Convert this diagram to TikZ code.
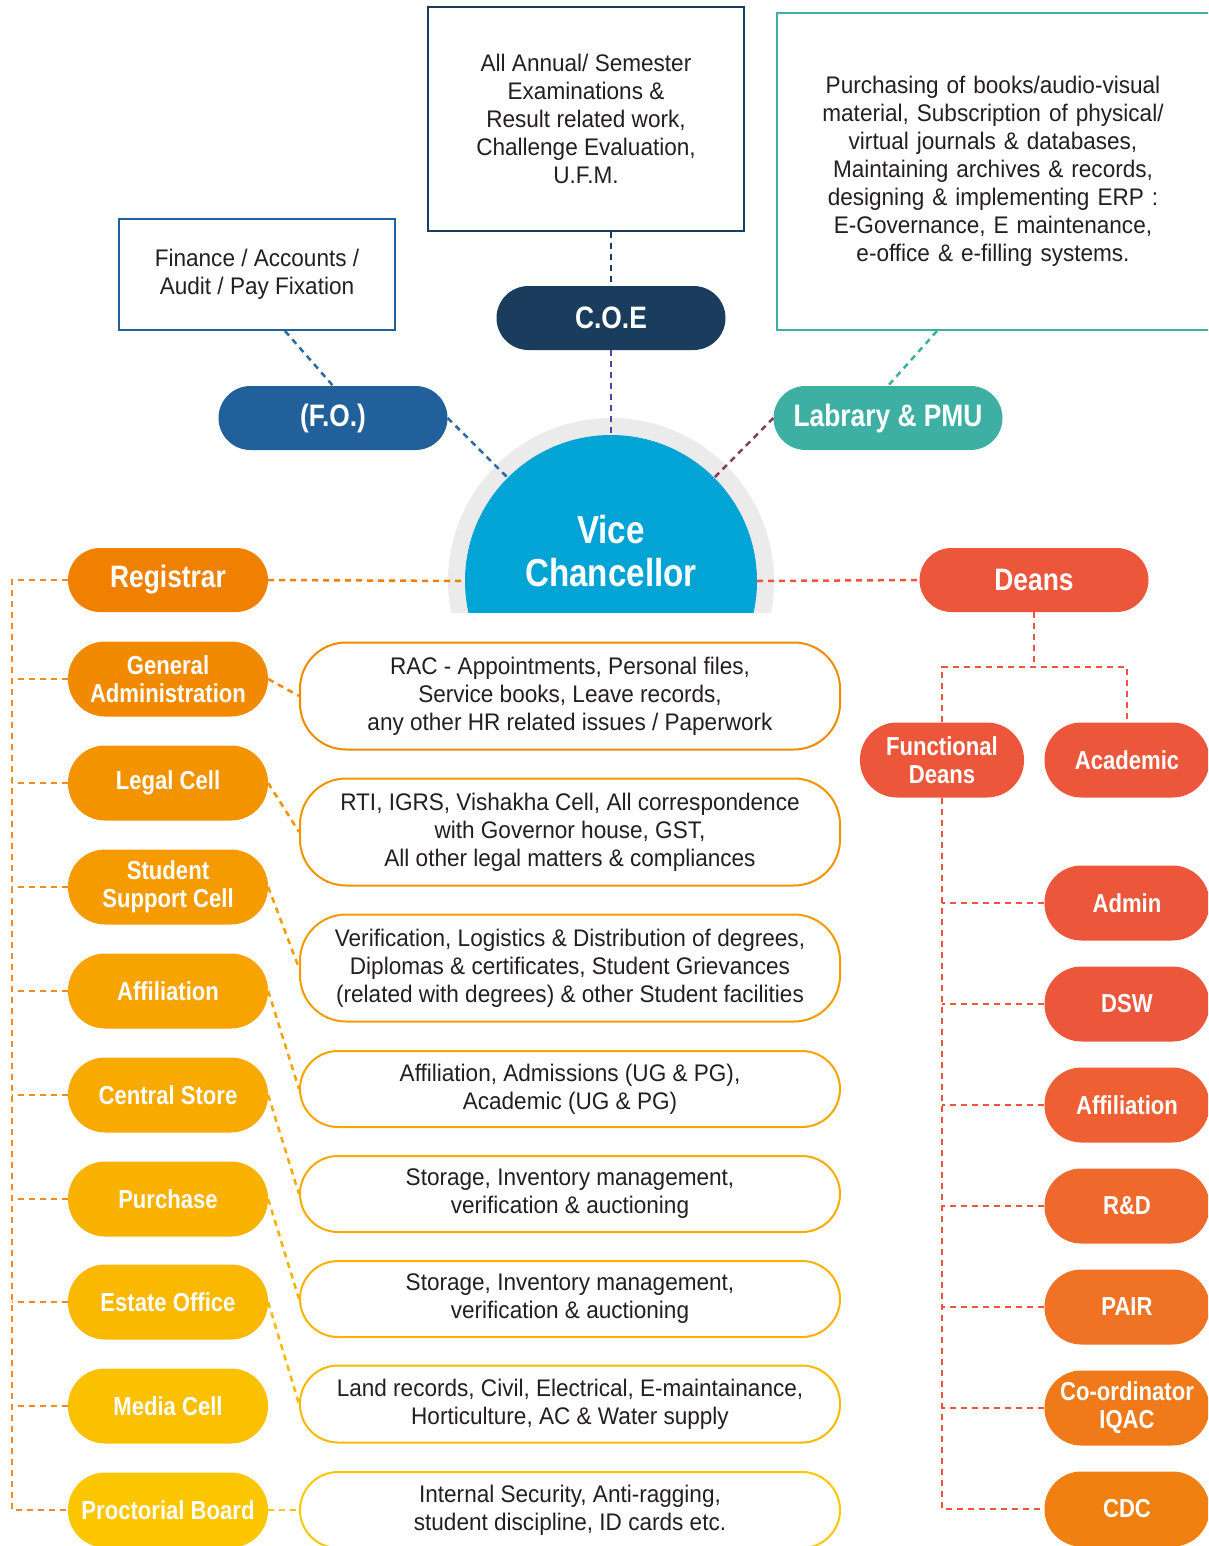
\documentclass[tikz,border=0pt]{standalone}
\usepackage{fontspec}
\newfontfamily\rfam{Liberation Sans}[FakeStretch=0.94]
\newfontfamily\bfam{Liberation Sans}[FakeStretch=0.85]
\usetikzlibrary{calc}
\definecolor{txt}{HTML}{231F20}
\definecolor{cFO}{HTML}{21609A}
\definecolor{cFOl}{HTML}{2A6AA8}
\definecolor{cCOE}{HTML}{1A3D5E}
\definecolor{cCOEl}{HTML}{5B3FA0}
\definecolor{cLib}{HTML}{3EB0A3}
\definecolor{cLibl}{HTML}{8B3A5A}
\definecolor{cVC}{HTML}{02A4D6}
\definecolor{cRing}{HTML}{EBEBEB}
\definecolor{cReg}{HTML}{F08000}
\definecolor{cGA}{HTML}{F28A00}
\definecolor{cLeg}{HTML}{F39300}
\definecolor{cSSC}{HTML}{F59B00}
\definecolor{cAff}{HTML}{F7A300}
\definecolor{cCS}{HTML}{F8AA00}
\definecolor{cPur}{HTML}{F9B200}
\definecolor{cEst}{HTML}{FAB900}
\definecolor{cMed}{HTML}{FBC000}
\definecolor{cPro}{HTML}{FCC600}
\definecolor{cTrunk}{HTML}{F08A24}
\definecolor{cDean}{HTML}{EC573C}
\definecolor{cRAff}{HTML}{EE6034}
\definecolor{cRD}{HTML}{EF692C}
\definecolor{cPAIR}{HTML}{F07224}
\definecolor{cIQ}{HTML}{F07A1A}
\definecolor{cCDC}{HTML}{F08010}
\begin{document}
\begin{tikzpicture}[x=1pt,y=-1pt,
  conn/.style={line width=2.5pt, dash pattern=on 6pt off 5pt},
  pillbase/.style={fill=#1, text=white, inner sep=0pt, align=center},
  toppill/.style={pillbase=#1, minimum width=229pt, minimum height=64pt, rounded corners=32pt, font=\bfam\bfseries\fontsize{31}{34}\selectfont},
  lpill/.style={pillbase=#1, minimum width=200pt, minimum height=75pt, rounded corners=37pt, font=\bfam\bfseries\fontsize{26}{28}\selectfont},
  rpill/.style={pillbase=#1, minimum width=165pt, minimum height=75pt, rounded corners=37pt, font=\bfam\bfseries\fontsize{26}{28}\selectfont},
  dbox/.style={draw=#1, line width=2pt, fill=white, minimum width=540pt, inner sep=0pt, align=center, text=txt, font=\rfam\fontsize{24}{28}\selectfont},
  tbox/.style={draw=#1, line width=2pt, fill=white, inner sep=0pt, align=center, text=txt, font=\rfam\fontsize{24}{28}\selectfont}
]
\useasboundingbox (0,0) rectangle (1208,1546);
\clip (0,0) rectangle (1208,1546);

% top boxes
\node[tbox=cFO, minimum width=276pt, minimum height=111pt] (fobox) at (257,274.5) {Finance / Accounts /\\Audit / Pay Fixation};
\node[tbox=cCOE, minimum width=316pt, minimum height=224pt] (coebox) at (586,119) {All Annual/ Semester\\Examinations \&\\Result related work,\\Challenge Evaluation,\\U.F.M.};
\node[tbox=cLib, minimum width=438pt, minimum height=317pt, text width=420pt] (libbox) at (996,171.5) {\hspace*{-6pt}Purchasing of books/audio-visual\\\hspace*{-6pt}material, Subscription of physical/\\\hspace*{-6pt}virtual journals \& databases,\\\hspace*{-6pt}Maintaining archives \& records,\\\hspace*{-6pt}designing \& implementing ERP :\\\hspace*{-6pt}E-Governance, E maintenance,\\\hspace*{-6pt}e-office \& e-filling systems.};

% top pills
\node[toppill=cFO] (fo) at (333,418) {(F.O.)};
\node[toppill=cCOE] (coe) at (611,318) {C.O.E};
\node[toppill=cLib] (lib) at (888,418) {Labrary \& PMU};

% Vice Chancellor
\begin{scope}
  \clip (0,0) rectangle (1208,612);
  \node[circle, fill=cRing, minimum size=326pt, inner sep=0pt] (ring) at (611,581) {};
  \node[circle, fill=cVC, minimum size=292pt, inner sep=0pt] (vc) at (611,581) {};
\end{scope}

% top connectors
\draw[conn, cFOl] ([xshift=28pt]fobox.south) -- (fo.north);
\draw[conn, cFOl] (fo.east) -- (vc.135);
\draw[conn, cCOE] ([xshift=25pt]coebox.south) -- (coe.north);
\draw[conn, cCOEl] (coe.south) -- (vc.north);
\draw[conn, cLib] ([xshift=-59pt]libbox.south) -- (lib.north);
\draw[conn, cLibl] (lib.west) -- (vc.45);

\node[text=white, align=center, font=\bfam\bfseries\fontsize{39}{43}\selectfont] (vct) at (611,551) {Vice\\Chancellor};

% left pills
\node[toppill=cReg, minimum width=200pt] (reg) at (168,580) {Registrar};
\node[lpill=cGA] (ga) at (168,679) {General\\Administration};
\node[lpill=cLeg] (leg) at (168,783) {Legal Cell};
\node[lpill=cSSC] (ssc) at (168,887) {Student\\Support Cell};
\node[lpill=cAff] (aff) at (168,991) {Affiliation};
\node[lpill=cCS] (cs) at (168,1095) {Central Store};
\node[lpill=cPur] (pur) at (168,1199) {Purchase};
\node[lpill=cEst] (est) at (168,1302) {Estate Office};
\node[lpill=cMed] (med) at (168,1406) {Media Cell};
\node[lpill=cPro] (pro) at (168,1510) {Proctorial Board};

% description boxes
\node[dbox=cGA, minimum height=107pt, rounded corners=46pt] (b1) at (570,696) {RAC - Appointments, Personal files,\\Service books, Leave records,\\any other HR related issues / Paperwork};
\node[dbox=cLeg, minimum height=107pt, rounded corners=46pt] (b2) at (570,832) {RTI, IGRS, Vishakha Cell, All correspondence\\with Governor house, GST,\\All other legal matters \& compliances};
\node[dbox=cSSC, minimum height=107pt, rounded corners=46pt] (b3) at (570,968) {Verification, Logistics \& Distribution of degrees,\\Diplomas \& certificates, Student Grievances\\(related with degrees) \& other Student facilities};
\node[dbox=cAff, minimum height=76pt, rounded corners=38pt] (b4) at (570,1089) {Affiliation, Admissions (UG \& PG),\\Academic (UG \& PG)};
\node[dbox=cCS, minimum height=76pt, rounded corners=38pt] (b5) at (570,1194) {Storage, Inventory management,\\verification \& auctioning};
\node[dbox=cPur, minimum height=76pt, rounded corners=38pt] (b6) at (570,1299) {Storage, Inventory management,\\verification \& auctioning};
\node[dbox=cEst, minimum height=77pt, rounded corners=38pt] (b7) at (570,1404) {Land records, Civil, Electrical, E-maintainance,\\Horticulture, AC \& Water supply};
\node[dbox=cPro, minimum height=76pt, rounded corners=38pt] (b8) at (570,1510) {Internal Security, Anti-ragging,\\student discipline, ID cards etc.};

% left connectors
\coordinate (lx) at (12,0);
\draw[conn, cTrunk] (reg.west) -- (reg.west -| lx) -- (pro.west -| lx) -- (pro.west);
\foreach \n in {ga,leg,ssc,aff,cs,pur,est,med}
  \draw[conn, cTrunk] (\n.west) -- (\n.west -| lx);
\draw[conn, cReg] (reg.east) -- (vc.west);
\draw[conn, cGA] (ga.east) -- (b1.west);
\draw[conn, cLeg] (leg.east) -- (b2.west);
\draw[conn, cSSC] (ssc.east) -- (b3.west);
\draw[conn, cAff] (aff.east) -- (b4.west);
\draw[conn, cCS] (cs.east) -- (b5.west);
\draw[conn, cPur] (pur.east) -- (b6.west);
\draw[conn, cEst] (est.east) -- (b7.west);
\draw[conn, cPro] (pro.east) -- (b8.west);

% right side
\node[toppill=cDean] (deans) at (1034,580) {Deans};
\node[rpill=cDean, minimum width=164pt] (fd) at (942,760) {Functional\\Deans};
\node[rpill=cDean] (acad) at (1127,760) {Academic};
\node[rpill=cDean] (adm) at (1127,903) {Admin};
\node[rpill=cDean] (dsw) at (1127,1004) {DSW};
\node[rpill=cRAff] (raff) at (1127,1105) {Affiliation};
\node[rpill=cRD] (rd) at (1127,1206) {R\&D};
\node[rpill=cPAIR] (pair) at (1127,1307) {PAIR};
\node[rpill=cIQ] (iqac) at (1127,1408) {Co-ordinator\\IQAC};
\node[rpill=cCDC] (cdc) at (1127,1509) {CDC};

\coordinate (split) at (1034,667);
\draw[conn, cDean] (vc.east) -- (deans.west);
\draw[conn, cDean] (deans.south) -- (split);
\draw[conn, cDean] (fd.north) -- (fd.north |- split) -- (acad.north |- split) -- (acad.north);
\draw[conn, cDean] (fd.south) -- (fd.south |- cdc.west) -- (cdc.west);
\foreach \n in {adm,dsw,raff,rd,pair,iqac}
  \draw[conn, cDean] (\n.west) -- (\n.west -| fd.south);
\end{tikzpicture}
\end{document}
